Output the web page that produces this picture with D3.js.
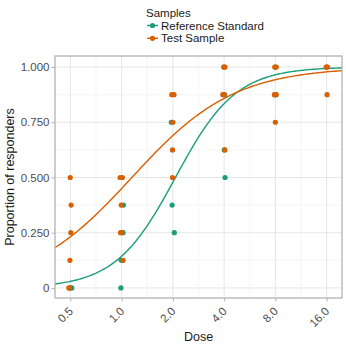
<!DOCTYPE html>
<html><head><meta charset="utf-8">
<script src="https://cdn.jsdelivr.net/npm/d3@7"></script>
<style>body{margin:0;background:#fff}svg{display:block;font-family:"Liberation Sans",Arial,sans-serif}</style>
</head><body><svg id="c" width="346" height="346"></svg>
<script>
const seriesNames = ["Reference Standard", "Test Sample"];
const seriesColors = ["#1b9e77", "#d95f02"];
const xTicks = [0.5, 1, 2, 4, 8, 16];
const xTickLabels = ["0.5", "1.0", "2.0", "4.0", "8.0", "16.0"];
const yTicks = [0, 0.25, 0.5, 0.75, 1];
const yTickLabels = ["0", "0.250", "0.500", "0.750", "1.000"];
// observed points (dose slightly jittered as in the picture)
const refDose = [0.51, 0.50, 0.99, 0.995, 1.02, 1.025, 2.04, 1.98, 1.96, 4.05, 4.01, 4.03, 3.98, 8.0, 7.95, 8.02, 16.0];
const refProp = [0, 0, 0, 0.125, 0.25, 0.375, 0.25, 0.375, 0.75, 0.5, 0.625, 0.875, 1.0, 1.0, 0.875, 0.875, 1.0];
const testDose = [0.49, 0.495, 0.497, 0.503, 0.505, 0.499, 1.02, 0.985, 1.0, 0.995, 0.98, 1.01, 1.99, 1.99, 2.0, 1.97, 2.03, 4.04, 3.93, 4.0, 3.99, 4.05, 8.0, 7.9, 8.1, 7.93, 8.1, 16.1, 15.9, 16.2];
const testProp = [0, 0, 0.125, 0.25, 0.375, 0.5, 0.125, 0.25, 0.25, 0.375, 0.5, 0.5, 0.5, 0.625, 0.75, 0.875, 0.875, 0.625, 0.875, 0.875, 1.0, 1.0, 0.75, 0.875, 0.875, 1.0, 1.0, 0.875, 1.0, 1.0];
// fitted logistic curves in log2(dose): slope, midpoint
const refFit = [1.7, 1.05];
const testFit = [1.0, 0.2];

const svg = d3.select("#c");
const L = 55, R = 342, T = 56, B = 298;
const x = d3.scaleLog().base(2).domain([Math.pow(2, -1.3), Math.pow(2, 4.3)]).range([L, R]);
const y = d3.scaleLinear().domain([-0.0455, 1.05]).range([B, T]);

// grid
const g = svg.append("g");
const minorX = [-1.5, -0.5, 0.5, 1.5, 2.5, 3.5].map(v => Math.pow(2, v)).filter(d => d > x.domain()[0] && d < x.domain()[1]);
const minorY = [0.125, 0.375, 0.625, 0.875];
g.selectAll(".mx").data(minorX).join("line").attr("x1", d => x(d)).attr("x2", d => x(d)).attr("y1", T).attr("y2", B).attr("stroke", "#f0f0f0").attr("stroke-width", 0.6);
g.selectAll(".my").data(minorY).join("line").attr("y1", d => y(d)).attr("y2", d => y(d)).attr("x1", L).attr("x2", R).attr("stroke", "#f0f0f0").attr("stroke-width", 0.6);
g.selectAll(".Mx").data(xTicks).join("line").attr("x1", d => x(d)).attr("x2", d => x(d)).attr("y1", T).attr("y2", B).attr("stroke", "#e6e6e6").attr("stroke-width", 1);
g.selectAll(".My").data(yTicks).join("line").attr("y1", d => y(d)).attr("y2", d => y(d)).attr("x1", L).attr("x2", R).attr("stroke", "#e6e6e6").attr("stroke-width", 1);

// curves
function logistic(p, d) { return 1 / (1 + Math.exp(-p[0] * (Math.log2(d) - p[1]))); }
const curveX = d3.range(0, 201).map(i => Math.pow(2, -1.3 + 5.6 * i / 200));
const line = d3.line().x(d => x(d[0])).y(d => y(d[1]));
[refFit, testFit].forEach((p, i) => {
  svg.append("path").datum(curveX.map(d => [d, logistic(p, d)])).attr("d", line)
    .attr("fill", "none").attr("stroke", seriesColors[i]).attr("stroke-width", 1.4);
});

// points
const refPts = refDose.map((d, i) => [d, refProp[i]]);
const testPts = testDose.map((d, i) => [d, testProp[i]]);
svg.append("g").selectAll("circle").data(refPts).join("circle")
  .attr("cx", d => x(d[0])).attr("cy", d => y(d[1])).attr("r", 2.6).attr("fill", seriesColors[0]);
svg.append("g").selectAll("circle").data(testPts).join("circle")
  .attr("cx", d => x(d[0])).attr("cy", d => y(d[1])).attr("r", 2.6).attr("fill", seriesColors[1]);

// border
svg.append("rect").attr("x", L).attr("y", T).attr("width", R - L).attr("height", B - T)
  .attr("fill", "none").attr("stroke", "#b3b3b3").attr("stroke-width", 1.3);

// axes
const ya = svg.append("g").attr("transform", `translate(${L},0)`)
  .call(d3.axisLeft(y).tickValues(yTicks).tickFormat((d, i) => yTickLabels[i]).tickSize(3.5).tickPadding(2));
ya.select(".domain").remove();
ya.selectAll("line").attr("stroke", "#b3b3b3");
ya.selectAll("text").attr("fill", "#4d4d4d").attr("font-size", 11.5).attr("font-family", "Liberation Sans, Arial, sans-serif");

const xa = svg.append("g").attr("transform", `translate(0,${B})`)
  .call(d3.axisBottom(x).tickValues(xTicks).tickFormat((d, i) => xTickLabels[i]).tickSize(3.5));
xa.select(".domain").remove();
xa.selectAll("line").attr("stroke", "#b3b3b3");
xa.selectAll("text").attr("fill", "#4d4d4d").attr("font-size", 11.5).attr("font-family", "Liberation Sans, Arial, sans-serif")
  .attr("text-anchor", "end").attr("dy", null).attr("y", 0)
  .attr("transform", "translate(3,14) rotate(-45)");

// titles
svg.append("text").attr("x", (L + R) / 2).attr("y", 341).attr("text-anchor", "middle")
  .attr("font-size", 12.5).attr("fill", "#1a1a1a").text("Dose");
svg.append("text").attr("transform", `translate(14,${(T + B) / 2}) rotate(-90)`).attr("text-anchor", "middle")
  .attr("font-size", 12.5).attr("fill", "#1a1a1a").text("Proportion of responders");

// legend
const lg = svg.append("g").attr("transform", "translate(146,0)");
lg.append("text").attr("x", 0).attr("y", 17).attr("font-size", 11.5).attr("fill", "#1a1a1a").text("Samples");
seriesNames.forEach((n, i) => {
  const cy = 25.5 + i * 12.8;
  lg.append("line").attr("x1", 1).attr("x2", 12).attr("y1", cy).attr("y2", cy).attr("stroke", seriesColors[i]).attr("stroke-width", 1.4);
  lg.append("circle").attr("cx", 6.5).attr("cy", cy).attr("r", 2.6).attr("fill", seriesColors[i]);
  lg.append("text").attr("x", 15).attr("y", cy + 4).attr("font-size", 11.5).attr("fill", "#1a1a1a").text(n);
});
</script></body></html>
